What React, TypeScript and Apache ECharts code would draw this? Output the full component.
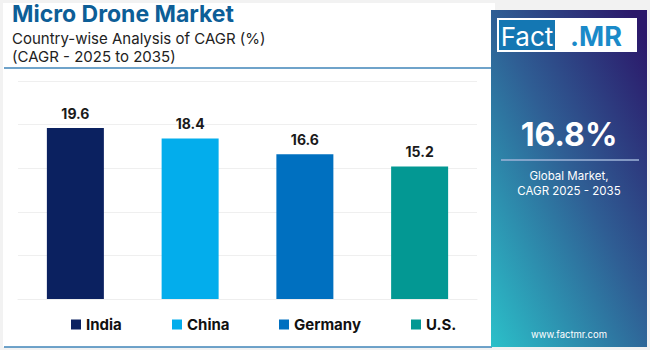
import React, { useEffect, useRef } from "react";
import * as echarts from "echarts";

const categories = ["India", "China", "Germany", "U.S."];
const values = [19.6, 18.4, 16.6, 15.2];
const colors = ["#0b2160", "#03adec", "#0070c0", "#039893"];
const globalCagr = "16.8%";

export default function App() {
  const ref = useRef<HTMLDivElement>(null);
  useEffect(() => {
    document.body.style.margin = "0";
    const chart = echarts.init(ref.current!, null, { renderer: "svg" });
    const font = "Inter, 'Noto Sans', sans-serif";
    const series = categories.map((name, i) => ({
      name,
      type: "bar",
      stack: "all",
      barWidth: 57,
      data: categories.map((_, j) => (j === i ? values[i] : null)),
      itemStyle: { color: colors[i] },
      label: {
        show: true,
        position: "top",
        distance: 8,
        fontFamily: font,
        fontWeight: "bold",
        fontSize: 14,
        color: "#1a1a1a",
        formatter: (p: any) => (p.value == null ? "" : String(p.value)),
      },
    }));
    const legendLefts = [66, 167, 274, 406];
    chart.setOption({
      animation: false,
      backgroundColor: "#f2f2f2",
      grid: { left: 18, right: 173, top: 81, bottom: 51 },
      xAxis: {
        type: "category",
        data: categories,
        axisLabel: { show: false },
        axisTick: { show: false },
        axisLine: { show: true, lineStyle: { color: "#eeeeee" } },
      },
      yAxis: {
        type: "value",
        min: 0,
        max: 25,
        interval: 5,
        axisLabel: { show: false },
        splitLine: { lineStyle: { color: "#efefef" } },
      },
      legend: categories.map((name, i) => ({
        data: [name],
        left: legendLefts[i],
        top: 312,
        itemWidth: 10,
        itemHeight: 10,
        itemGap: 0,
        icon: "rect",
        textStyle: { fontFamily: font, fontWeight: "bold", fontSize: 15, color: "#111" },
      })),
      graphic: [
        { type: "rect", z: -10, shape: { x: 3, y: 3, width: 492, height: 344 }, style: { fill: "#ffffff" } },
        {
          type: "text",
          left: 12,
          top: 2,
          style: { text: "Micro Drone Market", fontFamily: font, fontWeight: "bold", fontSize: 23, fill: "#0d5e97" },
        },
        {
          type: "text",
          left: 12,
          top: 31,
          style: { text: "Country-wise Analysis of CAGR (%)", fontFamily: font, fontSize: 15, fill: "#222" },
        },
        {
          type: "text",
          left: 12,
          top: 49,
          style: { text: "(CAGR - 2025 to 2035)", fontFamily: font, fontSize: 15, fill: "#222" },
        },
        { type: "line", shape: { x1: 4, y1: 68, x2: 492, y2: 68 }, style: { stroke: "#3f85b8", lineWidth: 1.5 } },
        { type: "line", shape: { x1: 4, y1: 347, x2: 492, y2: 347 }, style: { stroke: "#3f85b8", lineWidth: 1.5 } },
        {
          type: "rect",
          shape: { x: 491, y: 10, width: 156, height: 337 },
          style: {
            fill: new echarts.graphic.LinearGradient(0, 1, 0.9, 0, [
              { offset: 0, color: "#2bc0c9" },
              { offset: 0.55, color: "#2f5e94" },
              { offset: 1, color: "#2b186a" },
            ]),
          },
        },
        { type: "rect", shape: { x: 497, y: 18, width: 140, height: 34 }, style: { fill: "#ffffff" } },
        { type: "rect", shape: { x: 499, y: 20, width: 56, height: 30 }, style: { fill: "#1477b3" } },
        {
          type: "text",
          x: 527,
          y: 36,
          style: { text: "Fact", fontFamily: font, fontSize: 26, fill: "#ffffff", align: "center", verticalAlign: "middle" },
        },
        {
          type: "text",
          x: 596,
          y: 36,
          style: { text: ".MR", fontFamily: font, fontWeight: "bold", fontSize: 27, fill: "#1a8ac9", align: "center", verticalAlign: "middle" },
        },
        {
          type: "text",
          x: 569,
          y: 134,
          style: { text: globalCagr, fontFamily: font, fontWeight: "bold", fontSize: 32, fill: "#ffffff", align: "center", verticalAlign: "middle" },
        },
        { type: "line", shape: { x1: 501, y1: 160, x2: 639, y2: 160 }, style: { stroke: "#9fb4d8", lineWidth: 1.5 } },
        {
          type: "text",
          x: 569,
          y: 183,
          style: {
            text: "Global Market,\nCAGR 2025 - 2035",
            fontFamily: font,
            fontSize: 11.5,
            lineHeight: 15,
            fill: "#ffffff",
            align: "center",
            verticalAlign: "middle",
          },
        },
        {
          type: "text",
          x: 569,
          y: 334,
          style: { text: "www.factmr.com", fontFamily: font, fontSize: 9.5, fill: "#ffffff", align: "center", verticalAlign: "middle" },
        },
      ],
      series,
    });
    return () => chart.dispose();
  }, []);
  return <div ref={ref} style={{ width: 650, height: 350 }} />;
}
